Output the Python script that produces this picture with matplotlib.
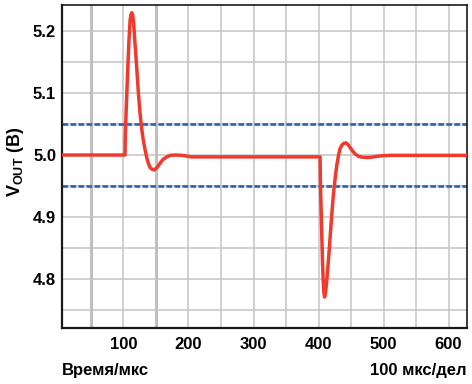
import numpy as np
import matplotlib.pyplot as plt

plt.rcParams['font.family'] = ['Liberation Sans', 'DejaVu Sans']
plt.rcParams['font.weight'] = 'bold'
plt.rcParams['mathtext.fontset'] = 'custom'
plt.rcParams['mathtext.rm'] = 'Liberation Sans:bold'
plt.rcParams['mathtext.bf'] = 'Liberation Sans:bold'

# осциллограмма выходного напряжения
t_us = [6, 102.4, 102.8, 104.5, 106.5, 108.5, 110.3, 111.7, 112.9, 114.2, 115.5,
        118, 120.5, 123, 125.5, 128, 130.5, 133.4, 136, 138.5, 141, 144, 147.2,
        151, 156.5, 161, 166.7, 172, 179.5, 190, 205, 230,
        402.4, 402.8, 404.5, 406.2, 407.5, 408.3, 409.2, 410.5, 412, 413.7,
        415.4, 418, 420.5, 423, 425.7, 428, 430.8, 433, 436, 439, 442.6, 446,
        451.3, 456, 461.5, 467, 474.5, 482, 490, 500, 510, 628]
v_out = [5.0, 5.0, 5.03, 5.08, 5.135, 5.185, 5.218, 5.227, 5.2295, 5.226, 5.215,
         5.177, 5.14, 5.10, 5.068, 5.043, 5.024, 5.008, 4.995, 4.986, 4.980, 4.977, 4.976,
         4.979, 4.987, 4.993, 4.997, 4.9995, 5.0, 4.9995, 4.997, 4.997,
         4.997, 4.96, 4.89, 4.825, 4.79, 4.778, 4.771, 4.776, 4.79, 4.81,
         4.832, 4.87, 4.906, 4.938, 4.964, 4.983, 5.0, 5.010, 5.016, 5.019, 5.0195, 5.016,
         5.008, 5.002, 4.998, 4.9965, 4.996, 4.9965, 4.998, 4.999, 4.9995, 4.9995]

limits = [4.95, 5.05]
x_ticks = [100, 200, 300, 400, 500, 600]
y_ticks = [4.8, 4.9, 5.0, 5.1, 5.2]

fig = plt.figure(figsize=(4.72, 3.84), dpi=100)
ax = fig.add_axes([0.132, 0.145, 0.857, 0.842])

ax.set_xlim(6, 628)
ax.set_ylim(4.7205, 5.242)
ax.set_xticks(x_ticks)
ax.set_xticks(np.arange(50, 601, 50), minor=True)
ax.set_yticks(y_ticks)
ax.set_yticks(np.arange(4.75, 5.21, 0.05), minor=True)
ax.set_yticklabels([f"{v:.1f}" for v in y_ticks])
ax.tick_params(which='both', length=0)
ax.tick_params(axis='x', pad=6, labelsize=12)
ax.tick_params(axis='y', pad=4.5, labelsize=12)
ax.grid(which='both', color='#c6c2c2', linewidth=1.1, zorder=0)
ax.set_axisbelow(True)
for xv in [50, 150]:
    ax.axvline(xv, color='#c0bcbc', linewidth=2.2, zorder=0.5)

for lim in limits:
    ax.axhline(lim, color='#2a62b8', linewidth=1.9, dashes=(2.16, 0.87), zorder=2)

ax.plot(t_us, v_out, color='#ef3a2d', linewidth=2.5, solid_joinstyle='round', zorder=3)

for side in ['left', 'bottom']:
    ax.spines[side].set_linewidth(1.6)
for side in ['top', 'right']:
    ax.spines[side].set_linewidth(1.2)
for side in ax.spines:
    ax.spines[side].set_color('#1a1a1a')

fig.text(15 / 472, 1 - 162 / 384, r"$\mathrm{V}_{\mathrm{OUT}}$ (B)", rotation=90,
         ha='center', va='center', fontsize=13, fontweight='bold')
fig.text(62 / 472, 1 - 370 / 384, "Время/мкс", ha='left', va='center',
         fontsize=12, fontweight='bold')
fig.text(467 / 472, 1 - 370 / 384, "100 мкс/дел", ha='right', va='center',
         fontsize=12, fontweight='bold')

fig.savefig("out.png", dpi=100)
